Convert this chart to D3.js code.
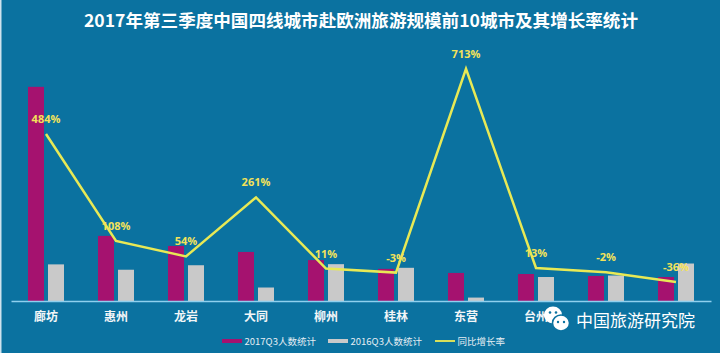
<!DOCTYPE html>
<html><head><meta charset="utf-8">
<script src="https://cdn.jsdelivr.net/npm/d3@7"></script>
<style>html,body{margin:0;padding:0;background:#0b72a0;overflow:hidden}</style>
</head><body>
<script>
const title = "2017年第三季度中国四线城市赴欧洲旅游规模前10城市及其增长率统计";
const categories = ["廊坊","惠州","龙岩","大同","柳州","桂林","东营","台州","城市9","城市10"];
const visibleLabels = ["廊坊","惠州","龙岩","大同","柳州","桂林","东营","台州"];
const seriesNames = ["2017Q3人数统计","2016Q3人数统计","同比增长率"];
const values2017 = [1000,304,257,229,191,150,131,126,117,112];
const values2016 = [171,146,167,63,172,155,16,112,119,175];
const growth = [484,108,54,261,11,-3,713,13,-2,-36];
const growthLabels = ["484%","108%","54%","261%","11%","-3%","713%","13%","-2%","-36%"];
const watermark = "中国旅游研究院";

const W=720,H=353, bg="#0b72a0";
const svg=d3.select("body").append("svg").attr("width",W).attr("height",H);
svg.append("rect").attr("width",W).attr("height",H).attr("fill",bg);
svg.append("rect").attr("x",0).attr("y",0).attr("width",1.5).attr("height",H).attr("fill","#cfe3ee");

const plotTop=44, base=301;
const x=d3.scaleBand().domain(categories).range([11,711]).padding(0);
const xs=d3.scaleBand().domain(["2017","2016"]).range([17,53]).paddingInner(0.2).paddingOuter(0);
const y=d3.scaleLinear().domain([0,1200]).range([base,plotTop]);
const yr=d3.scaleLinear().domain([-100,800]).range([base-0.8,plotTop]);

svg.append("text").attr("x",361).attr("y",27).attr("text-anchor","middle")
  .attr("fill","#ffffff").attr("font-family","'Noto Sans CJK SC',sans-serif").attr("font-weight","bold")
  .attr("font-size",17.5).attr("textLength",554).attr("lengthAdjust","spacingAndGlyphs").text(title);

const g=svg.append("g");
const rows=categories.map((c,i)=>({c,v17:values2017[i],v16:values2016[i]}));
g.selectAll(".b17").data(rows).join("rect")
  .attr("x",d=>x(d.c)+xs("2017")).attr("width",xs.bandwidth())
  .attr("y",d=>y(d.v17)).attr("height",d=>base-y(d.v17)).attr("fill","#a5126f");
g.selectAll(".b16").data(rows).join("rect")
  .attr("x",d=>x(d.c)+xs("2016")).attr("width",xs.bandwidth())
  .attr("y",d=>y(d.v16)).attr("height",d=>base-y(d.v16)).attr("fill","#c9c9c9");

// axis baseline
const ax=svg.append("g").attr("transform",`translate(0,${base})`)
  .call(d3.axisBottom(x).tickSize(0).tickFormat(d=>visibleLabels.includes(d)?d:""));
ax.select(".domain").attr("stroke","#8fd0ee").attr("stroke-width",1.5);
ax.selectAll("text").attr("dy",0).attr("y",20).attr("fill","#f2f6f8")
  .attr("font-family","'Noto Sans CJK SC',sans-serif").attr("font-weight","bold").attr("font-size",12);

// growth line
const line=d3.line().x((d,i)=>x(categories[i])+x.bandwidth()/2).y(d=>yr(d));
svg.append("path").datum(growth).attr("d",line).attr("fill","none")
  .attr("stroke","#e8e955").attr("stroke-width",2.5).attr("stroke-linejoin","miter");
svg.selectAll(".gl").data(growth).join("text")
  .attr("x",(d,i)=>x(categories[i])+x.bandwidth()/2).attr("y",d=>yr(d)-11)
  .attr("text-anchor","middle").attr("fill","#f3e25a")
  .attr("font-family","'Open Sans',sans-serif").attr("font-weight","bold").attr("font-size",11)
  .text((d,i)=>growthLabels[i]);

// legend
const leg=svg.append("g").attr("font-family","'Noto Sans CJK SC',sans-serif").attr("font-size",9.5).attr("fill","#e6eef4");
const legItems=[{x:222,c:"#a5126f",t:seriesNames[0],type:"bar"},{x:328,c:"#c9c9c9",t:seriesNames[1],type:"bar"},{x:435,c:"#d8df5a",t:seriesNames[2],type:"line"}];
legItems.forEach(it=>{
  if(it.type==="bar") leg.append("rect").attr("x",it.x).attr("y",339).attr("width",20).attr("height",4).attr("fill",it.c);
  else leg.append("rect").attr("x",it.x).attr("y",340).attr("width",20).attr("height",2).attr("fill",it.c);
  leg.append("text").attr("x",it.x+22.5).attr("y",344.5).text(it.t);
});

// watermark
const wm=svg.append("g");
wm.append("rect").attr("x",575).attr("y",306).attr("width",138).attr("height",27).attr("fill",bg);
wm.append("ellipse").attr("cx",553).attr("cy",315).attr("rx",9).attr("ry",8.5).attr("fill","#ffffff");
wm.append("circle").attr("cx",550).attr("cy",312.5).attr("r",1.3).attr("fill",bg);
wm.append("circle").attr("cx",556).attr("cy",312.5).attr("r",1.3).attr("fill",bg);
wm.append("ellipse").attr("cx",561).attr("cy",323).attr("rx",8.5).attr("ry",8).attr("fill","#ffffff").attr("stroke",bg).attr("stroke-width",1.5);
wm.append("circle").attr("cx",558).attr("cy",322).attr("r",1.2).attr("fill",bg);
wm.append("circle").attr("cx",564).attr("cy",322).attr("r",1.2).attr("fill",bg);
wm.append("text").attr("x",576).attr("y",327).attr("fill","#ffffff")
  .attr("font-family","'Noto Sans CJK SC',sans-serif").attr("font-size",17).text(watermark);
</script>
</body></html>
